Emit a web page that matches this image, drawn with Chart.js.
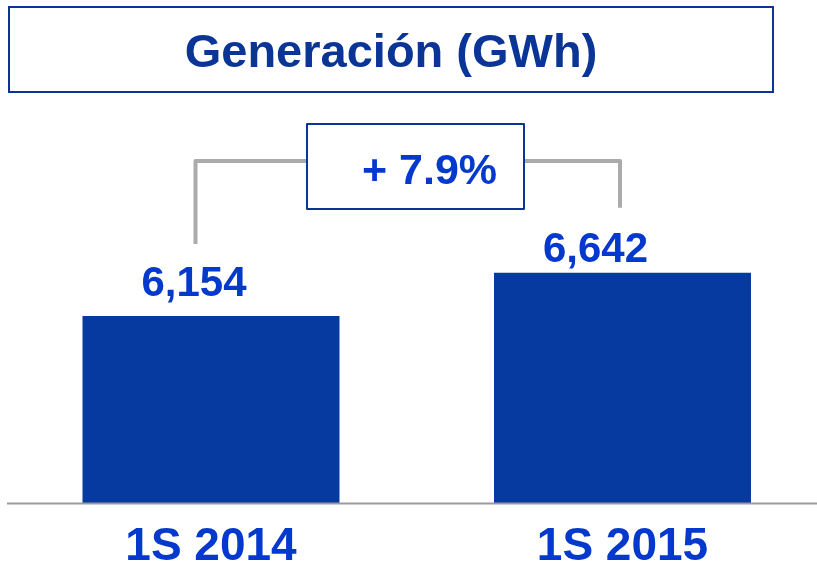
<!DOCTYPE html>
<html>
<head>
<meta charset="utf-8">
<script src="https://cdn.jsdelivr.net/npm/chart.js@4.4.0/dist/chart.umd.min.js"></script>
<style>
  html, body { margin: 0; padding: 0; background: #fff; }
  #wrap { width: 817px; height: 570px; }
</style>
</head>
<body>
<div id="wrap"><canvas id="genChart" width="817" height="570"></canvas></div>
<script>
const periods = ['1S 2014', '1S 2015'];
const generationGWh = [6154, 6642];
const chartTitle = 'Generación (GWh)';
const yMin = 4050;
const yMax = 9710;

const FONT = '"Liberation Sans", Arial, sans-serif';
const NAVY = '#0a3597';
const BAR_BLUE = '#073aa1';
const LABEL_BLUE = '#0538cc';
const GRAY = '#ababab';

// growth between the two half-years, shown in the bracket box
const growthPct = (generationGWh[1] / generationGWh[0] - 1) * 100;

const annotations = {
    id: 'annotations',
    afterDraw(chart) {
        const ctx = chart.ctx;
        const bars = chart.getDatasetMeta(0).data;
        const area = chart.chartArea;
        ctx.save();

        // title box
        ctx.strokeStyle = NAVY;
        ctx.lineWidth = 2;
        ctx.strokeRect(9, 7, 764, 85);
        ctx.fillStyle = NAVY;
        ctx.font = `bold 47px ${FONT}`;
        ctx.textAlign = 'center';
        ctx.textBaseline = 'alphabetic';
        ctx.fillText(chartTitle, 391, 67);

        // baseline
        ctx.strokeStyle = '#9b9b9b';
        ctx.lineWidth = 2;
        ctx.beginPath();
        ctx.moveTo(7, area.bottom + 0.5);
        ctx.lineTo(817, area.bottom + 0.5);
        ctx.stroke();

        // value labels above bars
        const shift = [[-17, -20], [-27, -11]];
        ctx.fillStyle = LABEL_BLUE;
        ctx.font = `bold 42px ${FONT}`;
        bars.forEach((bar, i) => {
            ctx.fillText(generationGWh[i].toLocaleString('en-US'), bar.x + shift[i][0], bar.y + shift[i][1]);
        });

        // growth bracket
        const lx = bars[0].x - 15.5;
        const rx = bars[1].x - 2.5;
        ctx.strokeStyle = GRAY;
        ctx.lineWidth = 4;
        ctx.lineJoin = 'round';
        ctx.beginPath();
        ctx.moveTo(lx, bars[0].y - 72);
        ctx.lineTo(lx, 161);
        ctx.lineTo(rx, 161);
        ctx.lineTo(rx, bars[1].y - 65);
        ctx.stroke();

        ctx.fillStyle = '#fff';
        ctx.fillRect(307, 124, 217, 85);
        ctx.strokeStyle = NAVY;
        ctx.lineWidth = 2;
        ctx.strokeRect(307, 124, 217, 85);
        ctx.fillStyle = LABEL_BLUE;
        ctx.font = `bold 43px ${FONT}`;
        ctx.textAlign = 'left';
        ctx.fillText(`+ ${growthPct.toFixed(1)}%`, 362, 184);

        ctx.restore();
    }
};

new Chart(document.getElementById('genChart'), {
    type: 'bar',
    data: {
        labels: periods,
        datasets: [{
            data: generationGWh,
            backgroundColor: BAR_BLUE,
            borderWidth: 0,
            categoryPercentage: 1,
            barPercentage: 0.6245,
            // bars are wider than the narrow chart area, only clip top/bottom
            clip: { left: false, right: false, top: 0, bottom: 0 }
        }]
    },
    options: {
        responsive: false,
        animation: false,
        layout: { padding: { left: 211, right: 194.5, top: 0, bottom: -21 } },
        plugins: {
            legend: { display: false },
            tooltip: { enabled: false }
        },
        scales: {
            x: {
                offset: false,
                grid: { display: false, drawTicks: false },
                border: { display: false },
                ticks: {
                    color: LABEL_BLUE,
                    padding: 21,
                    maxRotation: 0,
                    autoSkip: false,
                    font: { family: FONT, size: 46, weight: 'bold', lineHeight: 1 }
                }
            },
            y: {
                display: false,
                min: yMin,
                max: yMax
            }
        }
    },
    plugins: [annotations]
});
</script>
</body>
</html>
